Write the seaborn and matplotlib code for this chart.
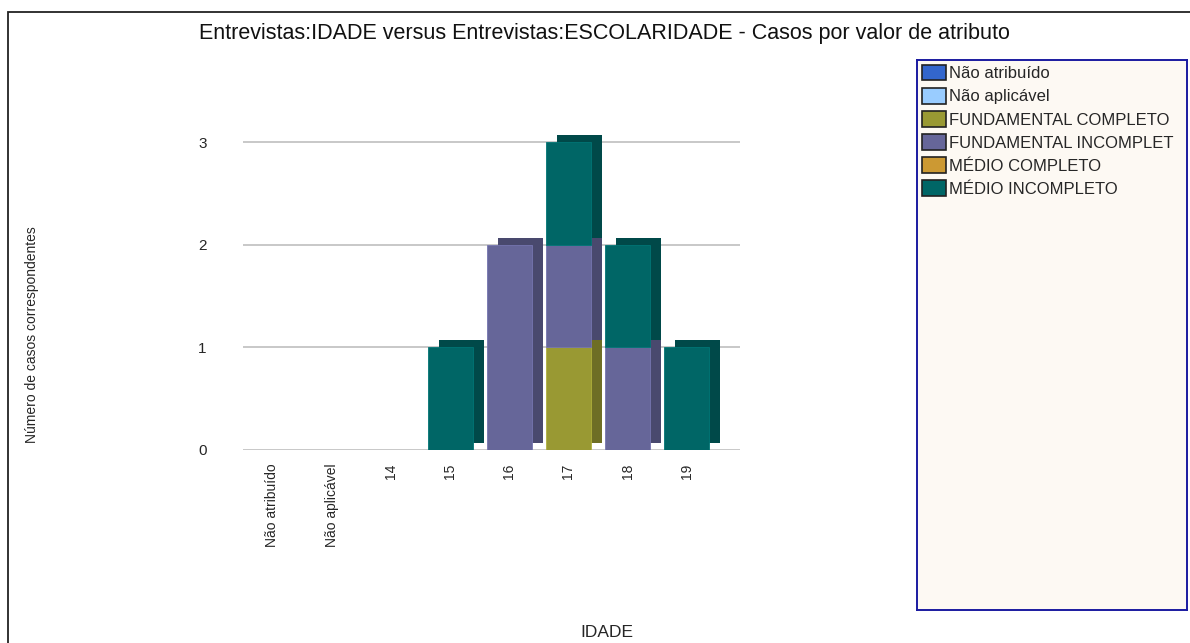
import matplotlib
matplotlib.use("Agg")
import matplotlib.pyplot as plt
import matplotlib.patheffects as pe
from matplotlib.patches import Patch, Rectangle
import numpy as np
import pandas as pd
import seaborn as sns

# --- data ---
idades = ["Não atribuído", "Não aplicável", "14", "15", "16", "17", "18", "19"]
series_names = ["Não atribuído", "Não aplicável", "FUNDAMENTAL COMPLETO",
                "FUNDAMENTAL INCOMPLETO", "MÉDIO COMPLETO", "MÉDIO INCOMPLETO"]
legend_labels = ["Não atribuído", "Não aplicável", "FUNDAMENTAL COMPLETO",
                 "FUNDAMENTAL INCOMPLET", "MÉDIO COMPLETO", "MÉDIO INCOMPLETO"]
nao_atribuido = [0, 0, 0, 0, 0, 0, 0, 0]
nao_aplicavel = [0, 0, 0, 0, 0, 0, 0, 0]
fund_completo = [0, 0, 0, 0, 0, 1, 0, 0]
fund_incompleto = [0, 0, 0, 0, 2, 1, 1, 0]
medio_completo = [0, 0, 0, 0, 0, 0, 0, 0]
medio_incompleto = [0, 0, 0, 1, 0, 1, 1, 1]
y_ticks = [0, 1, 2, 3]

colors = ["#3366cc", "#99ccff", "#999933", "#666699", "#cc9933", "#006666"]

values = [nao_atribuido, nao_aplicavel, fund_completo,
          fund_incompleto, medio_completo, medio_incompleto]

sns.set_theme(style="white")
plt.rcParams["font.family"] = ["Liberation Sans", "DejaVu Sans"]

fig = plt.figure(figsize=(11.9, 6.43), dpi=100)
ax = fig.add_axes([0.204, 0.3002, 0.418, 0.4945])

# grid lines first
for t in y_ticks:
    ax.axhline(t, color="#c4c4c4", lw=1.3, zorder=0)

bottom = np.zeros(len(idades))
for name, vals, c in zip(series_names, values, colors):
    df = pd.DataFrame({"idade": idades, "n": vals})
    sns.barplot(data=df, x="idade", y="n", order=idades, color=c, saturation=1,
                bottom=bottom, width=0.76, ax=ax, errorbar=None, linewidth=0,
                zorder=2)
    bottom = bottom + np.array(vals)

# pseudo-3D depth on each bar
for p in ax.patches:
    if p.get_height() > 0:
        fc = p.get_facecolor()
        dark = tuple(np.array(fc[:3]) * 0.72)
        p.set_path_effects([pe.SimplePatchShadow(offset=(8, 5), shadow_rgbFace=dark, alpha=1.0),
                            pe.Normal()])
        p.set_edgecolor(tuple(min(1, v * 1.15) for v in fc[:3]))
        p.set_linewidth(0.6)

ax.set_ylim(0, 3.1)
ax.set_xlim(-0.5, 7.9)
ax.set_yticks(y_ticks)
ax.set_yticklabels([str(t) for t in y_ticks], fontsize=11)
ax.tick_params(axis="y", pad=26, length=0)
ax.tick_params(axis="x", pad=10, length=0)
ax.set_xticks(range(len(idades)))
ax.set_xticklabels(idades, rotation=90, fontsize=10, va="top")
for lab in ax.get_xticklabels():
    lab.set_family(["Liberation Sans Narrow", "Liberation Sans"])
ax.set_xlabel("")
ax.set_ylabel("")
sns.despine(ax=ax, left=True, bottom=True)
ax.set_facecolor("none")

fig.text(0.508, 0.948, "Entrevistas:IDADE versus Entrevistas:ESCOLARIDADE - Casos por valor de atributo",
         ha="center", va="center", fontsize=15.5, color="#111111")
fig.text(0.027, 0.48, "Número de casos correspondentes", rotation=90, ha="center", va="center",
         fontsize=10, family=["Liberation Sans Narrow", "Liberation Sans"])
fig.text(0.51, 0.017, "IDADE", ha="center", va="center", fontsize=12.5)

# legend box
lax = fig.add_axes([0.7706, 0.0513, 0.2269, 0.8554])
lax.set_facecolor("#fdf9f3")
lax.set_xticks([])
lax.set_yticks([])
for s in lax.spines.values():
    s.set_color("#1a1aa0")
    s.set_linewidth(1.4)
handles = [Patch(facecolor=c, edgecolor="#222222", linewidth=1.2) for c in colors]
leg = lax.legend(handles, legend_labels, loc="upper left", frameon=False, fontsize=12,
                 handlelength=1.45, handleheight=1.05, handletextpad=0.15,
                 borderaxespad=0.0, borderpad=0.3, labelspacing=0.4)

# outer frame
fig.patches.append(Rectangle((0.007, -0.01), 1.2, 0.992, transform=fig.transFigure,
                             fill=False, edgecolor="#222222", lw=1.3))

fig.savefig("out.png", dpi=100)
